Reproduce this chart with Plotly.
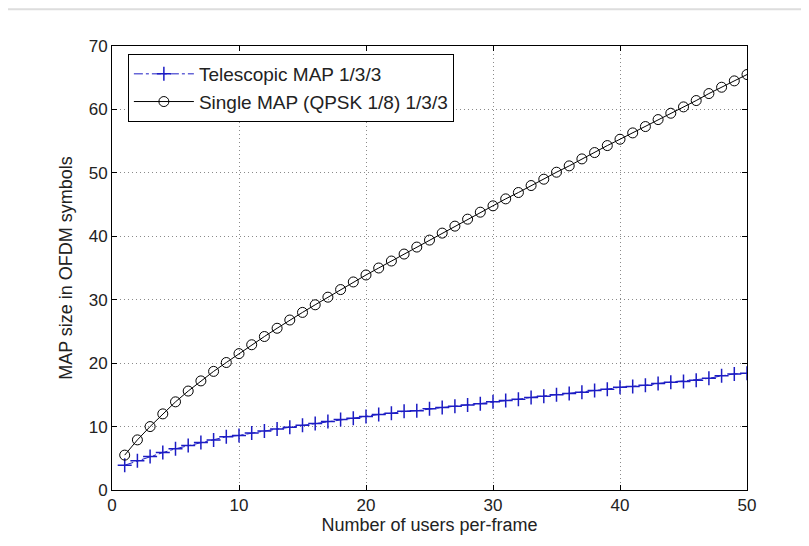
import plotly.graph_objects as go

users = list(range(1, 51))
telescopic = [3.9, 4.6, 5.3, 5.9, 6.5, 7.0, 7.5, 7.9, 8.4, 8.6,
              9.0, 9.3, 9.6, 9.9, 10.2, 10.5, 10.8, 11.1, 11.3, 11.6,
              11.9, 12.1, 12.4, 12.5, 12.8, 13.0, 13.2, 13.4, 13.6, 13.9,
              14.1, 14.3, 14.6, 14.8, 15.0, 15.2, 15.4, 15.7, 15.9, 16.2,
              16.3, 16.5, 16.8, 17.0, 17.1, 17.3, 17.6, 18.0, 18.3, 18.4]
single = [5.5, 7.9, 10.0, 12.0, 13.9, 15.6, 17.2, 18.7, 20.1, 21.5,
          22.9, 24.2, 25.5, 26.8, 28.0, 29.2, 30.4, 31.6, 32.8, 33.9,
          35.0, 36.1, 37.2, 38.3, 39.4, 40.5, 41.6, 42.7, 43.8, 44.8,
          45.9, 46.9, 48.0, 49.0, 50.1, 51.1, 52.2, 53.2, 54.3, 55.3,
          56.3, 57.3, 58.4, 59.4, 60.4, 61.4, 62.5, 63.5, 64.5, 65.5]
x_ticks = [0, 10, 20, 30, 40, 50]
y_ticks = [0, 10, 20, 30, 40, 50, 60, 70]

font = "Liberation Sans, Arial, sans-serif"
blue = "#1c1cc4"

fig = go.Figure()
fig.add_trace(go.Scatter(
    x=users, y=telescopic, mode="lines+markers", name="Telescopic MAP 1/3/3",
    line=dict(color=blue, width=1, dash="dashdot"),
    marker=dict(symbol="cross-thin", size=10, line=dict(color=blue, width=1.5)),
))
fig.add_trace(go.Scatter(
    x=users, y=single, mode="lines+markers", name="Single MAP (QPSK 1/8) 1/3/3",
    line=dict(color="black", width=1),
    marker=dict(symbol="circle-open", size=10, color="black", line=dict(width=1)),
))

axis_common = dict(
    showline=True, linecolor="black", linewidth=1, mirror="ticks",
    ticks="inside", ticklen=5, tickcolor="black",
    showgrid=True, gridcolor="#8a8a8a", griddash="1px,3px", gridwidth=1,
    zeroline=False, tickfont=dict(family=font, size=17, color="#222222"),
)

fig.update_xaxes(range=[0, 50], tickvals=x_ticks,
                 title=dict(text="Number of users per-frame",
                            font=dict(family=font, size=18, color="#222222"), standoff=2),
                 **axis_common)
fig.update_yaxes(range=[0, 70], tickvals=y_ticks,
                 title=dict(text="MAP size in OFDM symbols",
                            font=dict(family=font, size=18, color="#222222"), standoff=11),
                 **axis_common)

fig.add_shape(type="line", xref="paper", yref="paper",
              x0=-0.164, x1=1.1, y0=1.083, y1=1.083,
              line=dict(color="#dddddd", width=2))

fig.update_layout(
    width=809, height=546,
    margin=dict(l=104, r=70, t=38, b=64),
    paper_bgcolor="white", plot_bgcolor="white",
    font=dict(family=font, size=17, color="#222222"),
    showlegend=True,
    legend=dict(x=0.025, y=0.982, xanchor="left", yanchor="top",
                bgcolor="white", bordercolor="black", borderwidth=1,
                font=dict(family=font, size=19, color="#222222"),
                tracegroupgap=0, itemwidth=60),
)

fig.write_html("out.html")
